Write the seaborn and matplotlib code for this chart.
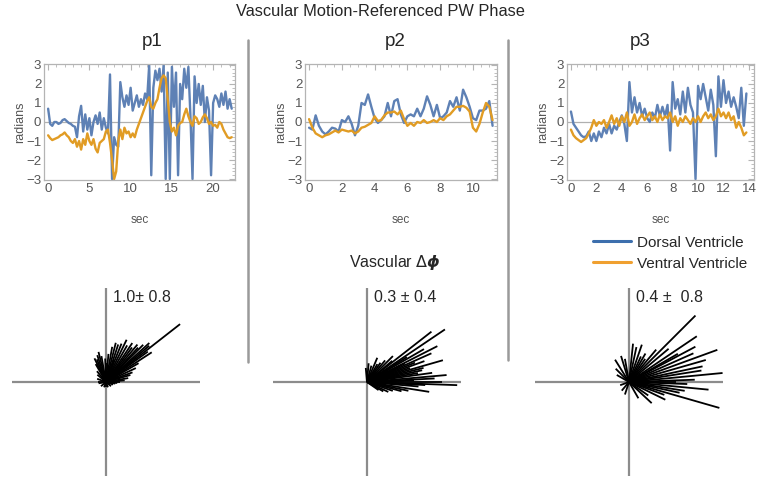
import numpy as np
import pandas as pd
import seaborn as sns
import matplotlib.pyplot as plt
from matplotlib.lines import Line2D
from matplotlib.ticker import AutoMinorLocator

p1_dt = 0.25
p1_dorsal = [0.7, -0.1, -0.2, 0.0, 0.0, -0.1, -0.05, 0.1, 0.15, 0.05,
             -0.05, -0.1, -0.2, -0.25, -0.8, 0.3, 0.85, -0.5, 0.4, -0.4,
             0.2, -0.7, 0.0, 0.35, -0.1, 0.5, -0.4, 0.2, -0.3, -0.6,
             2.5, -3.0, -0.8, -1.2, -1.3, 2.1, 1.3, 0.8, 1.4, 0.9,
             1.8, 0.6, 1.0, 1.4, 0.8, 1.2, 0.9, 1.5, 1.2, 3.0,
             -2.8, 1.8, 2.7, 2.2, 2.8, 1.6, 3.0, -3.0, 2.6, -3.0,
             2.9, 0.8, 2.6, -2.8, 2.0, 1.2, 2.8, 1.8, 2.9, 0.3,
             -3.0, 2.4, 1.0, 2.0, 0.9, 1.9, 0.0, 1.3, 0.6, -2.8,
             1.0, 1.4, 1.2, 0.8, 1.5, 0.9, 1.6, 0.7, 1.2, 0.7]
p1_ventral = [-0.7, -0.85, -0.95, -0.9, -0.85, -0.8, -0.7, -0.65, -0.55, -0.7,
              -0.8, -1.0, -1.1, -0.9, -1.3, -1.0, -1.45, -0.9, -1.2, -0.6,
              -1.0, -1.2, -0.9, -1.4, -1.6, -1.1, -1.0, -0.9, -0.5, -0.4,
              -1.1, -2.0, -3.0, -2.6, -1.0, -0.4, -0.9, -0.3, -0.6, -0.5,
              -0.8, -0.6, -0.8, -0.4, -0.1, 0.2, 0.5, 0.8, 1.1, 1.3,
              0.8, 0.7, 1.0, 1.2, 1.8, 2.3, 2.45, 2.3, 1.2, 0.0,
              -0.5, -0.3, -0.7, -0.2, -0.05, 0.0, 0.4, 0.7, 0.3, 0.0,
              -0.2, 0.3, 0.2, -0.1, 0.0, 0.25, 0.4, 0.2, -0.1, 0.0,
              -0.2, -0.15, -0.3, 0.0, -0.1, -0.4, -0.6, -0.8, -0.85, -0.8]

p2_dt = 0.2
p2_dorsal = [-0.3, -0.4, 0.35, -0.2, -0.5, -0.65, -0.5, -0.3, -0.35, -0.5,
             0.1, 0.0, 0.3, -0.1, -0.7, -0.2, 1.0, 0.9, 1.45, 0.8,
             0.2, -0.05, 0.1, 0.3, 1.0, 0.3, 1.1, 1.2, 0.4, -0.05,
             0.3, 0.4, 0.3, 0.7, 0.3, 0.7, 1.35, 0.9, 0.3, 0.9,
             0.2, 0.3, 0.5, 1.1, 0.8, 1.3, 0.6, 1.7, 1.3, 0.8,
             0.2, 0.1, 0.6, 0.6, 0.7, 1.1, -0.2]
p2_ventral = [0.15, -0.3, -0.6, -0.7, -0.8, -0.7, -0.65, -0.55, -0.45, -0.55,
              -0.4, -0.45, -0.5, -0.45, -0.6, -0.5, -0.3, -0.25, -0.15, -0.05,
              0.3, 0.05, 0.1, 0.35, 0.5, 0.5, 0.55, 0.4, 0.6, 0.15,
              -0.2, -0.05, -0.2, 0.0, -0.05, 0.1, -0.05, 0.0, 0.1, 0.0,
              0.2, 0.1, 0.3, 0.4, 0.6, 0.8, 0.8, 0.85, 0.75, 0.55,
              -0.3, -0.5, -0.1, 0.5, 1.0, 0.8, 0.1]

p3_dt = 0.2
p3_dorsal = [0.55, -0.1, -0.3, -0.5, -0.7, -0.8, -0.75, -0.5, -1.0, -0.6,
             -1.0, -0.5, -0.8, -0.3, -0.6, -0.1, -0.6, -0.2, -0.4, 0.0,
             0.35, -0.1, -1.0, 2.1, 0.5, 1.3, 0.5, 1.0, 0.3, 0.7,
             0.2, 0.0, 0.5, 0.2, 0.9, 0.3, 0.8, 0.3, 0.9, -1.5,
             2.1, 0.7, 1.2, 0.4, 1.6, 0.5, 1.8, 0.9, 0.5, -3.0,
             1.9, 1.2, 2.0, 1.3, 0.6, 1.7, 0.9, -1.8, 2.4, 0.8,
             2.2, 1.0, 1.6, 0.8, 1.3, 0.8, 0.2, 1.8, -0.2, 1.5]
p3_ventral = [-0.4, -0.7, -0.85, -0.95, -1.05, -0.95, -0.85, -0.6, -0.3, 0.1,
              -0.2, 0.0, -0.1, 0.1, -0.3, 0.0, 0.35, -0.1, 0.2, -0.2,
              0.3, 0.0, 0.5, -0.2, 0.0, 0.4, -0.1, 0.2, 0.4, 0.1,
              0.3, 0.5, 0.1, 0.3, 0.0, 0.4, 0.1, 0.3, 0.2, 0.5,
              0.0, 0.3, -0.2, 0.2, 0.0, 0.3, 0.1, -0.1, 0.2, 0.0,
              0.3, 0.0, 0.3, 0.5, 0.2, 0.4, 0.1, 0.3, 0.7, 0.3,
              0.5, 0.2, 0.5, 0.1, 0.3, -0.3, 0.0, -0.3, -0.7, -0.55]

# Vascular delta-phi: angle (deg) and relative magnitude of each vector
p1_ang = [38, 33, 36, 40, 42, 45, 47, 50, 53, 56, 60, 64, 68, 72, 76, 80, 85, 92,
          100, 104, 108, 112, 116, 120, 20, 16, 10, 5, 0, -5, -10, -20, -40, -70,
          -90, -110, -140, -170, 180, 160, 140, 130, 90, 70, 25, 30]
p1_len = [1.0, 0.58, 0.55, 0.60, 0.62, 0.56, 0.50, 0.52, 0.46, 0.50, 0.45, 0.50,
          0.44, 0.42, 0.43, 0.38, 0.30, 0.25, 0.28, 0.33, 0.30, 0.26, 0.28, 0.22,
          0.30, 0.27, 0.24, 0.20, 0.15, 0.12, 0.10, 0.08, 0.07, 0.06, 0.05, 0.06,
          0.07, 0.08, 0.09, 0.10, 0.12, 0.15, 0.20, 0.25, 0.35, 0.40]
p2_ang = [34, 38, 27, 16, 5, -2, -9, -19, 45, 67, 85, 30, 24, 20, 12, 8, 2, -5, -12,
          -15, 40, 50, 55, 60, 75, 95, 10, 14, 18, 22, 0, -3, -25, -30, -35, 3, 26, 32]
p2_len = [1.0, 0.87, 0.84, 0.84, 0.85, 0.96, 0.67, 0.29, 0.39, 0.28, 0.20, 0.70,
          0.75, 0.65, 0.60, 0.70, 0.50, 0.55, 0.45, 0.38, 0.35, 0.30, 0.25, 0.22,
          0.18, 0.15, 0.55, 0.62, 0.48, 0.55, 0.80, 0.62, 0.25, 0.20, 0.15, 0.72,
          0.45, 0.50]
p3_ang = [45, 34, 20, 5.5, -16, -5.5, 28, 24, 16, 12, 9, 2, -2, -9, -12, -26, -43,
          71, 84, 107, 122, 252, 60, 55, 50, 40, 30, 0, -20, -35, -60, 135, 150,
          200, 230, 100, 78, 65]
p3_len = [1.0, 0.87, 1.0, 1.0, 1.0, 0.85, 0.80, 0.75, 0.85, 0.80, 0.78, 0.70,
          0.62, 0.60, 0.55, 0.43, 0.33, 0.42, 0.41, 0.29, 0.28, 0.14, 0.35, 0.30,
          0.45, 0.55, 0.60, 0.50, 0.40, 0.25, 0.20, 0.20, 0.15, 0.10, 0.12, 0.25,
          0.38, 0.30]

stats = ["1.0\u00b1 0.8", "0.3 \u00b1 0.4", "0.4 \u00b1  0.8"]
titles = ["p1", "p2", "p3"]

blue = "#5e81b5"
orange = "#e19c24"
frame_col = "#b4b4b4"
tick_col = "#555555"

sns.set_style("white")
plt.rcParams["font.family"] = ["Liberation Sans", "DejaVu Sans"]
plt.rcParams["mathtext.fontset"] = "dejavusans"

W, H = 760, 478


def rect(l, t, r, b):
    return [l / W, 1 - b / H, (r - l) / W, (b - t) / H]


fig = plt.figure(figsize=(7.6, 4.78), dpi=100)

top_rects = [rect(44, 64, 235, 180), rect(305, 64, 497, 180), rect(567, 64, 754, 180)]
xlims = [(-0.5, 22.65), (-0.25, 11.47), (-0.31, 14.4)]
xticks = [[0, 5, 10, 15, 20], [0, 2, 4, 6, 8, 10], [0, 2, 4, 6, 8, 10, 12, 14]]
series = [(p1_dt, p1_dorsal, p1_ventral), (p2_dt, p2_dorsal, p2_ventral),
          (p3_dt, p3_dorsal, p3_ventral)]
title_x = [152, 395, 640]

for i in range(3):
    ax = fig.add_axes(top_rects[i])
    dt, dors, vent = series[i]
    df = pd.DataFrame({"sec": np.arange(len(dors)) * dt,
                       "Dorsal Ventricle": dors, "Ventral Ventricle": vent})
    ax.axhline(0, color="#b0b0b0", lw=0.9, zorder=0)
    sns.lineplot(data=df, x="sec", y="Dorsal Ventricle", ax=ax, color=blue, lw=1.7)
    sns.lineplot(data=df, x="sec", y="Ventral Ventricle", ax=ax, color=orange, lw=1.7)
    ax.set_xlim(xlims[i])
    ax.set_ylim(-3.05, 3.05)
    ax.set_xticks(xticks[i])
    ax.set_yticks(range(-3, 4))
    ax.set_yticklabels(["\u22123", "\u22122", "\u22121", "0", "1", "2", "3"])
    ax.xaxis.set_minor_locator(AutoMinorLocator(5 if i == 0 else 4))
    ax.yaxis.set_minor_locator(AutoMinorLocator(5))
    ax.tick_params(which="both", direction="in", top=True, right=True,
                   color=frame_col, labelsize=9.5, labelcolor=tick_col, pad=2)
    ax.tick_params(which="major", length=4, width=0.8)
    ax.tick_params(which="minor", length=2, width=0.6)
    for s in ax.spines.values():
        s.set_color(frame_col)
        s.set_linewidth(0.9)
    ax.set_xlabel("sec", color=tick_col, fontsize=8.5, labelpad=14)
    ax.set_ylabel("radians", color=tick_col, fontsize=9, labelpad=0)
    fig.text(title_x[i] / W, 1 - 42 / H, titles[i], ha="center", va="center", fontsize=13.5)

# Star plots of vascular phase difference
star_rects = [rect(12, 288, 200, 476), rect(273, 288, 461, 476), rect(535, 288, 723, 476)]
stars = [(p1_ang, p1_len), (p2_ang, p2_len), (p3_ang, p3_len)]
for i in range(3):
    ax = fig.add_axes(star_rects[i])
    ax.axhline(0, color="#8c8c8c", lw=1.6, zorder=0)
    ax.axvline(0, color="#8c8c8c", lw=1.6, zorder=0)
    ang, ln = stars[i]
    rad = np.deg2rad(ang)
    for a, r in zip(rad, ln):
        ax.plot([0, r * np.cos(a)], [0, r * np.sin(a)], color="black", lw=1.3,
                solid_capstyle="butt")
    ax.set_xlim(-1, 1)
    ax.set_ylim(-1, 1)
    ax.axis("off")
    ax.text(0.07, 0.9, stats[i], ha="left", va="center", fontsize=11.5)

fig.text(0.5, 1 - 12 / H, "Vascular Motion-Referenced PW Phase",
         ha="center", va="center", fontsize=11.8)
fig.text(395 / W, 1 - 262 / H, r"Vascular $\Delta\boldsymbol{\phi}$",
         ha="center", va="center", fontsize=11.5)

for x, yb in [(248, 362), (508, 360)]:
    fig.add_artist(Line2D([x / W, x / W], [1 - 40 / H, 1 - yb / H],
                          color="#9a9a9a", lw=1.8))

handles = [Line2D([], [], color="#3d6fad", lw=2.2), Line2D([], [], color="#f0a030", lw=2.2)]
fig.legend(handles, ["Dorsal Ventricle", "Ventral Ventricle"], loc="upper left",
           bbox_to_anchor=(585 / W, 1 - 228 / H), frameon=False, fontsize=11,
           handlelength=2.5, handletextpad=0.4, labelspacing=0.45, borderpad=0)

fig.savefig("out.png", dpi=100)
